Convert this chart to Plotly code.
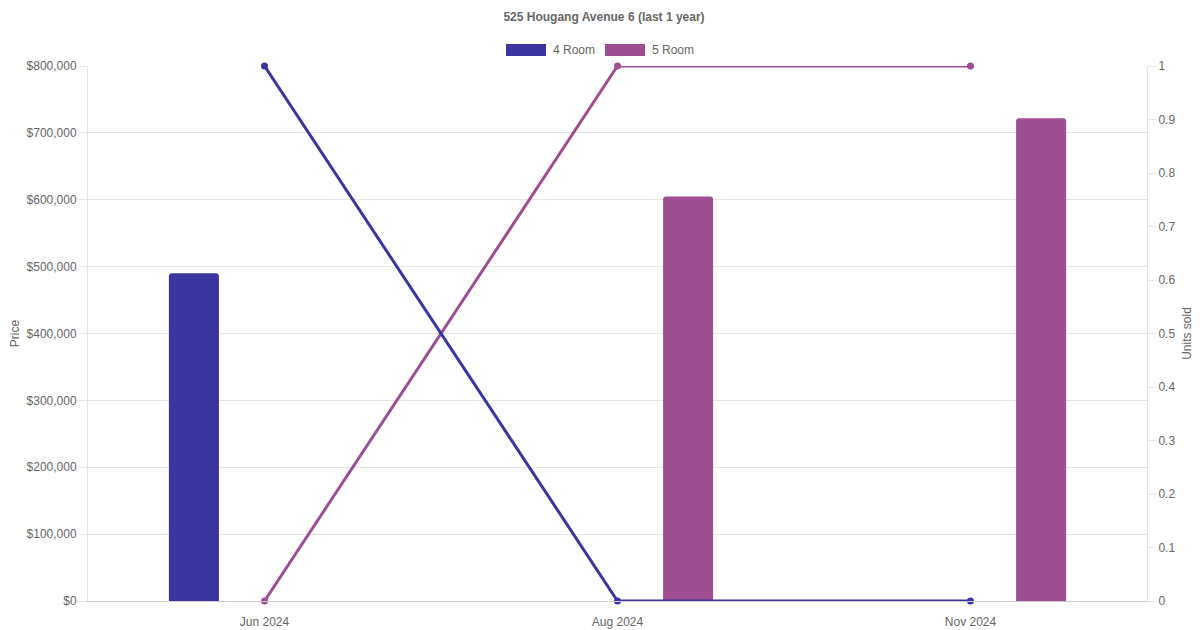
import plotly.graph_objects as go

months = ["Jun 2024", "Aug 2024", "Nov 2024"]
price_4room = [490000, 0, 0]
price_5room = [0, 605000, 722000]
units_4room = [1, 0, 0]
units_5room = [0, 1, 1]
series_names = ["4 Room", "5 Room"]

c4 = "#3a35a0"
c5 = "#9e4f94"
font = "Liberation Sans, Arial, sans-serif"

OFF = 8  # page body margin
W, H = 1200 - OFF, 630 - OFF
L, R, T, B = 88 - OFF, 1147 - OFF, 66 - OFF, 601 - OFF
PW, PH = R - L, B - T


def px_x(p):
    return (p - OFF - L) / PW


def px_y(p):
    return (B - (p - OFF)) / PH


def nz(v):
    return [x if x else None for x in v]


bw = 50 / 353.0
fig = go.Figure()
fig.add_trace(go.Bar(x=months, y=nz(price_4room), name=series_names[0], marker_color=c4,
                     marker_line_width=0, width=bw, offset=-0.2 - bw / 2, yaxis="y"))
fig.add_trace(go.Bar(x=months, y=nz(price_5room), name=series_names[1], marker_color=c5,
                     marker_line_width=0, width=bw, offset=0.2 - bw / 2, yaxis="y"))
fig.add_trace(go.Scatter(x=months, y=units_5room, mode="lines+markers", name=series_names[1],
                         line=dict(color=c5, width=3), marker=dict(size=7, color=c5),
                         yaxis="y2", cliponaxis=False))
fig.add_trace(go.Scatter(x=months, y=units_4room, mode="lines+markers", name=series_names[0],
                         line=dict(color=c4, width=3), marker=dict(size=7, color=c4),
                         yaxis="y2", cliponaxis=False))

# custom legend (wide swatches like the original)
shapes = []
annotations = []
for name, col, x0 in [(series_names[0], c4, 506), (series_names[1], c5, 605)]:
    shapes.append(dict(type="rect", xref="paper", yref="paper",
                       x0=px_x(x0), x1=px_x(x0 + 40), y0=px_y(56), y1=px_y(44),
                       fillcolor=col, line=dict(width=0)))
    annotations.append(dict(text=name, xref="paper", yref="paper", x=px_x(x0 + 45), y=px_y(50),
                            xanchor="left", yanchor="middle", showarrow=False,
                            font=dict(size=12, color="#666", family=font)))

fig.update_layout(
    width=W, height=H,
    margin=dict(l=L, r=W - R, t=T, b=H - B, autoexpand=False),
    plot_bgcolor="white", paper_bgcolor="white",
    font=dict(family=font, size=12, color="#666"),
    barmode="overlay", barcornerradius=3,
    showlegend=False,
    shapes=shapes, annotations=annotations,
    title=dict(text="<b>525 Hougang Avenue 6 (last 1 year)</b>", x=0.5, xanchor="center",
               y=1 - (17 - OFF) / H, yanchor="middle", yref="container",
               font=dict(size=12, color="#666", family=font)),
    xaxis=dict(type="category", range=[-0.5, 2.5], showgrid=False, showline=True,
               linecolor="#ccc", ticks="outside", ticklen=10, tickcolor="rgba(0,0,0,0)",
               automargin=False, tickfont=dict(size=12, color="#666")),
    yaxis=dict(range=[0, 800000], dtick=100000, tickprefix="$", tickformat=",",
               showgrid=True, gridcolor="#e5e5e5", showline=True, linecolor="#e5e5e5",
               ticks="outside", ticklen=8, tickcolor="#e5e5e5", zeroline=False, automargin=False,
               tickfont=dict(size=12, color="#666"),
               title=dict(text="Price", font=dict(size=12, color="#666"), standoff=4)),
    yaxis2=dict(range=[0, 1], dtick=0.1, overlaying="y", side="right", showgrid=False,
                showline=True, linecolor="#e5e5e5", ticks="outside", ticklen=8,
                tickcolor="#e5e5e5", zeroline=False, automargin=False,
                tickfont=dict(size=12, color="#666"),
                title=dict(text="Units sold", font=dict(size=12, color="#666"), standoff=8)),
)

fig.write_html("out.html")
